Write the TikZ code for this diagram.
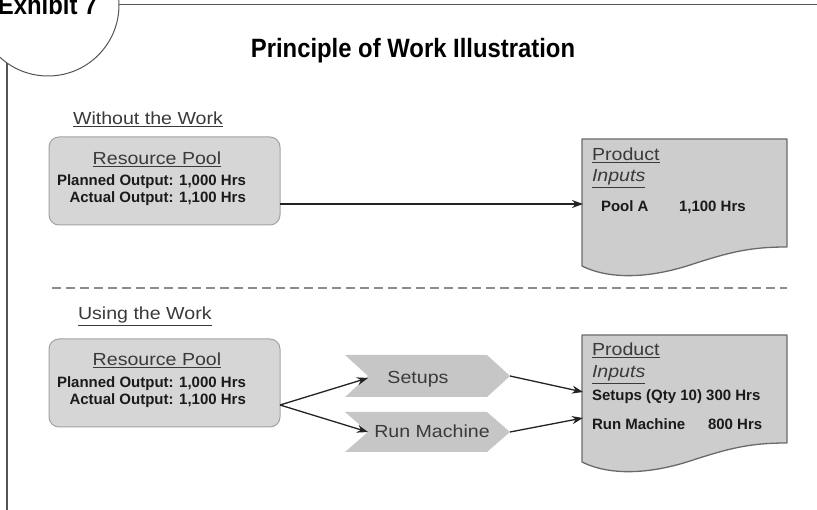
\documentclass[tikz,border=0pt]{standalone}
\usepackage{fontspec}
\setmainfont{Liberation Sans}
\newfontfamily\condf[FakeStretch=0.9]{Liberation Sans}
\newfontfamily\widef[FakeStretch=1.12]{Liberation Sans}
\usetikzlibrary{arrows.meta}
\definecolor{boxfill}{HTML}{D6D6D6}
\definecolor{boxline}{HTML}{A2A2A2}
\definecolor{docfill}{HTML}{CDCDCD}
\definecolor{docline}{HTML}{6A6A6A}
\definecolor{chevfill}{HTML}{C6C6C6}
\definecolor{txtgray}{HTML}{3A3A3A}
\definecolor{txtdark}{HTML}{1A1A1A}
\definecolor{framec}{HTML}{555555}
\definecolor{arrowc}{HTML}{222222}
\definecolor{dashc}{HTML}{8C8C8C}
\tikzset{
  lbl/.style={inner sep=0pt, outer sep=0pt, font=\widef\fontsize{17.5}{20}\selectfont, text=txtgray},
  bld/.style={inner sep=0pt, outer sep=0pt, font=\bfseries\fontsize{15}{18}\selectfont, text=txtdark},
  ttl/.style={inner sep=0pt, outer sep=0pt, font=\condf\bfseries\fontsize{26.5}{30}\selectfont, text=black},
  rbox/.style={draw=boxline, fill=boxfill, line width=1pt, rounded corners=10pt, minimum width=231pt, minimum height=88pt, inner sep=0pt},
  docshape/.style={draw=docline, fill=docfill, line width=1.3pt, line join=round},
  chev/.style={fill=chevfill, draw=none},
  arr/.style={draw=arrowc, line width=1.3pt, -{Stealth[length=11pt,width=8pt]}},
  frameline/.style={draw=framec, line width=1pt}
}
\begin{document}
\begin{tikzpicture}[x=1pt,y=-1pt]
\useasboundingbox (0,0) rectangle (817,510);
% frame
\draw[frameline] (48,5) circle[radius=71pt];
\coordinate (topL) at (119,5);
\coordinate (topR) at (817,5);
\draw[frameline] (topL) -- (topR);
\coordinate (vT) at (7,63);
\coordinate (vB) at (7,510);
\draw[frameline, line width=1.3pt] (vT) -- (vB);
\node[ttl, anchor=base west] (exh) at (-2,15) {Exhibit 7};
\node[ttl, anchor=base] (title) at (413,58) {Principle of Work Illustration};

% ---------- section 1 ----------
\node[lbl, anchor=base west] (wo) at (73,125) {\underline{Without the Work}};
\node[rbox] (pool1) at (164.5,181) {};
\node[lbl, anchor=base] (rp1) at (157,165) {\underline{Resource Pool}};
\node[bld, anchor=base west] (pl1) at (57,186) {Planned Output: 1,000 Hrs};
\node[bld, anchor=base east] (ac1) at (pl1.base east |- 0,203) {Actual Output: 1,100 Hrs};

\path[docshape] (582,139) -- (787,139) -- (787,247)
  .. controls (750,247) and (730,252) .. (690,265)
  .. controls (650,278) and (610,280) .. (582,266) -- cycle;
\node[lbl, anchor=base west] (prod1) at (592,161) {\underline{Product}};
\node[lbl, anchor=base west] (inp1) at (592,182) {\underline{\itshape Inputs}};
\node[bld, anchor=base west] (poolA) at (601,212) {Pool A};
\node[bld, anchor=base west] (hrsA) at (679,212) {1,100 Hrs};

\coordinate (o1) at (280,204);
\coordinate (d1) at (583,204);
\draw[arr] (o1) -- (d1);

% dashed separator
\coordinate (dsL) at (52,288);
\coordinate (dsR) at (787,288);
\draw[draw=dashc, line width=1.6pt, dash pattern=on 9pt off 5pt] (dsL) -- (dsR);

% ---------- section 2 ----------
\node[lbl, anchor=base west] (uw) at (78,320) {\underline{Using the Work}};
\node[rbox] (pool2) at (164.5,383) {};
\node[lbl, anchor=base] (rp2) at (157,366) {\underline{Resource Pool}};
\node[bld, anchor=base west] (pl2) at (57,388) {Planned Output: 1,000 Hrs};
\node[bld, anchor=base east] (ac2) at (pl2.base east |- 0,405) {Actual Output: 1,100 Hrs};

% chevrons
\path[chev] (345,355) -- (487,355) -- (510,376) -- (487,397) -- (345,397) -- (368,376) -- cycle;
\path[chev] (345,412) -- (487,412) -- (510,432) -- (487,452) -- (345,452) -- (368,432) -- cycle;
\node[lbl, anchor=base] (setups) at (418,384) {Setups};
\node[lbl, anchor=base] (runm) at (432,438) {Run Machine};
\coordinate (s_in) at (368,378);
\coordinate (s_out) at (510,376);
\coordinate (r_in) at (368,432);
\coordinate (r_out) at (510,432);

\path[docshape] (582,335) -- (787,335) -- (787,443)
  .. controls (750,443) and (730,448) .. (690,461)
  .. controls (650,474) and (610,476) .. (582,462) -- cycle;
\node[lbl, anchor=base west] (prod2) at (592,356) {\underline{Product}};
\node[lbl, anchor=base west] (inp2) at (592,378) {\underline{\itshape Inputs}};
\node[bld, anchor=base west] (sq) at (592,401) {Setups (Qty 10) 300 Hrs};
\node[bld, anchor=base west] (rmq) at (592,430) {Run Machine};
\node[bld, anchor=base west] (rmh) at (708,430) {800 Hrs};

\coordinate (o2) at (280,405);
\coordinate (d2a) at (583,392);
\coordinate (d2b) at (583,418);
\draw[arr] (o2) -- (s_in);
\draw[arr] (o2) -- (r_in);
\draw[arr] (s_out) -- (d2a);
\draw[arr] (r_out) -- (d2b);
\end{tikzpicture}
\end{document}
